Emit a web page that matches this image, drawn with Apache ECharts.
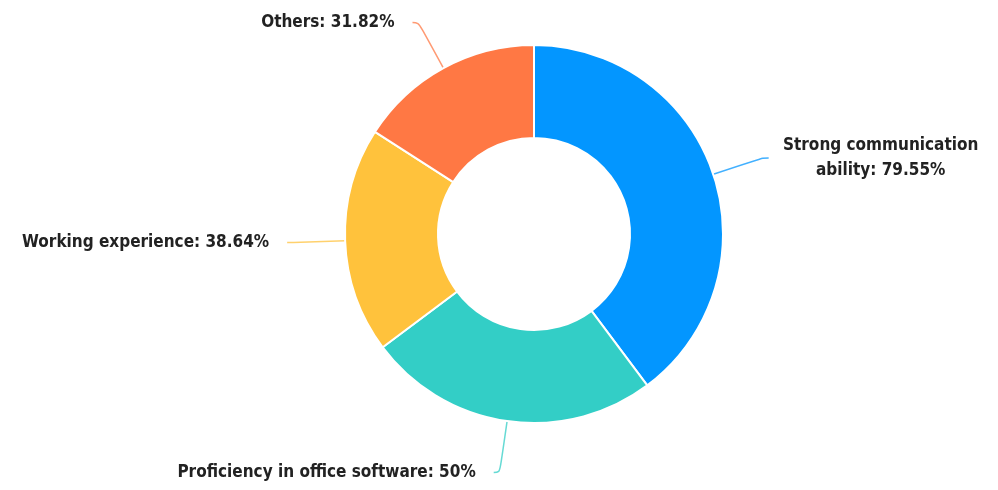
<!DOCTYPE html>
<html lang="en">
<head>
    <meta charset="UTF-8">
    <script src="https://cdn.jsdelivr.net/npm/echarts@6/dist/echarts.min.js"></script>
    <title>Donut</title>
    <style>
        html, body { margin: 0; padding: 0; background: #fff; }
        #main { width: 998px; height: 490px; }
    </style>
</head>
<body>
    <div id="main"></div>
    <script>
        // data
        var categories = ['Strong communication\nability', 'Proficiency in office software', 'Working experience', 'Others'];
        var values = [79.55, 50, 38.64, 31.82];
        var colors = ['#0396FF', '#33CEC6', '#FFC23C', '#FF7844'];

        var pieData = categories.map(function (name, i) {
            return { name: name, value: values[i], itemStyle: { color: colors[i] } };
        });

        var myChart = echarts.init(document.getElementById('main'));
        var option = {
            animation: false,
            series: [{
                type: 'pie',
                center: [534, 234],
                radius: [96, 189],
                startAngle: 90,
                itemStyle: {
                    borderColor: '#fff',
                    borderWidth: 2
                },
                label: {
                    // each line centred in a fixed box so the two-line label reads centred
                    formatter: function (p) {
                        var txt = p.name + ': ' + p.value + '%';
                        if (txt.indexOf('\n') < 0) return txt;
                        return txt.split('\n').map(function (s) { return '{c|' + s + '}'; }).join('\n');
                    },
                    color: '#222',
                    fontFamily: 'DejaVu Sans Condensed',
                    fontWeight: 'bold',
                    fontSize: 17,
                    lineHeight: 25,
                    overflow: 'none',
                    distanceToLabelLine: 18,
                    rich: {
                        c: {
                            width: 188,
                            align: 'center',
                            color: '#222',
                            fontFamily: 'DejaVu Sans Condensed',
                            fontWeight: 'bold',
                            fontSize: 17,
                            lineHeight: 25
                        }
                    }
                },
                labelLine: {
                    length: 52,
                    length2: 6,
                    smooth: 0.4,
                    lineStyle: { width: 1.5, opacity: 0.75 }
                },
                data: pieData
            }]
        };
        myChart.setOption(option);
    </script>
</body>
</html>
